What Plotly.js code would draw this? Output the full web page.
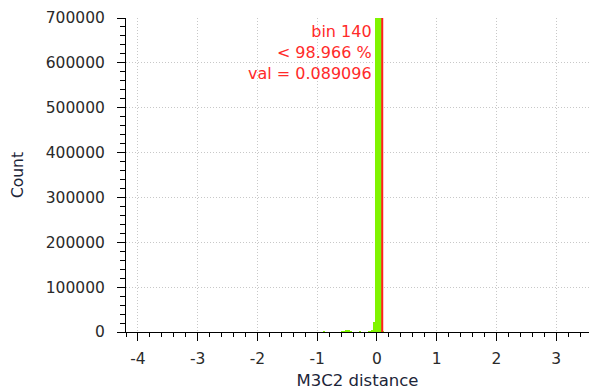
<!DOCTYPE html>
<html>
<head>
<meta charset="utf-8">
<script src="https://cdn.plot.ly/plotly-3.0.1.min.js"></script>
<style>
  html, body { margin: 0; padding: 0; background: #ffffff; }
  #chart { width: 589px; height: 390px; }
</style>
</head>
<body>
<div id="chart"></div>
<script>
// ---- data ----
const binLeftEdges = [-2.012, -1.802, -1.502, -1.202, -0.902, -0.602, -0.572, -0.542, -0.512, -0.482, -0.452, -0.302, -0.152, -0.122, -0.092, -0.062, -0.032, -0.002, 0.028, 0.058, 0.088, 0.118];
const binCounts    = [   600,    700,    800,    900,   1200,   1500,   2500,   3500,   5000,   3500,   2000,   1500,   2000,   2500,   4000,  22000, 1250000, 2400000, 2900000, 1700000,   1500,    800];
const binWidth = 0.03;
const selBin = 140;
const selPercent = 98.966;
const selValue = 0.089096;
const xTickVals = [-4, -3, -2, -1, 0, 1, 2, 3];
const yTickVals = [0, 100000, 200000, 300000, 400000, 500000, 600000, 700000];

const tickFont = { family: 'DejaVu Sans', size: 15.5, color: '#2a2a2a' };

const trace = {
  type: 'bar',
  x: binLeftEdges,
  y: binCounts,
  width: binWidth,
  offset: 0,
  marker: { color: '#80f400', line: { width: 0 } },
  hoverinfo: 'skip'
};

const layout = {
  width: 589, height: 390,
  margin: { l: 126, r: 0, t: 18, b: 58 },
  paper_bgcolor: '#ffffff',
  plot_bgcolor: '#ffffff',
  showlegend: false,
  bargap: 0,
  xaxis: {
    range: [-4.2, 3.55],
    tickmode: 'array', tickvals: xTickVals, ticktext: xTickVals.map(String),
    ticks: 'outside', ticklen: 8, tickwidth: 1, tickcolor: '#000',
    minor: { dtick: 0.2, tick0: 0, ticks: 'outside', ticklen: 4, tickcolor: '#000', showgrid: false },
    showline: true, linecolor: '#000', linewidth: 1,
    showgrid: true, gridcolor: '#c8c8c8', griddash: '1px,2px', gridwidth: 1,
    zeroline: false,
    tickfont: tickFont,
    ticklabelstandoff: 4,
    title: { text: 'M3C2 distance', font: { family: 'DejaVu Sans', size: 16.5, color: '#1c2538' }, standoff: 12 },
    fixedrange: true
  },
  yaxis: {
    range: [0, 700000],
    tickmode: 'array', tickvals: yTickVals, ticktext: yTickVals.map(String),
    ticks: 'outside', ticklen: 8, tickwidth: 1, tickcolor: '#000',
    minor: { dtick: 20000, tick0: 0, ticks: 'outside', ticklen: 5, tickcolor: '#000', showgrid: false },
    showline: true, linecolor: '#000', linewidth: 1,
    showgrid: true, gridcolor: '#c8c8c8', griddash: '1px,2px', gridwidth: 1,
    zeroline: false,
    tickfont: tickFont,
    ticklabelstandoff: 9,
    title: { text: 'Count', font: { family: 'DejaVu Sans', size: 15.5, color: '#1c2538' }, standoff: 18 },
    fixedrange: true
  },
  shapes: [{
    type: 'line', xref: 'x', yref: 'paper',
    x0: selValue, x1: selValue, y0: 0, y1: 1,
    line: { color: '#ff2020', width: 2 }
  }],
  annotations: [{
    xref: 'x', yref: 'paper',
    x: selValue, y: 1,
    xanchor: 'right', yanchor: 'top',
    xshift: -8, yshift: -2,
    align: 'right',
    showarrow: false,
    text: 'bin ' + selBin + '<br>&lt; ' + selPercent.toFixed(3) + ' %<br>val = ' + selValue.toFixed(6),
    font: { family: 'DejaVu Sans', size: 16, color: '#ff2a2a' }
  }]
};

Plotly.newPlot('chart', [trace], layout, { displayModeBar: false, staticPlot: true });
</script>
</body>
</html>
